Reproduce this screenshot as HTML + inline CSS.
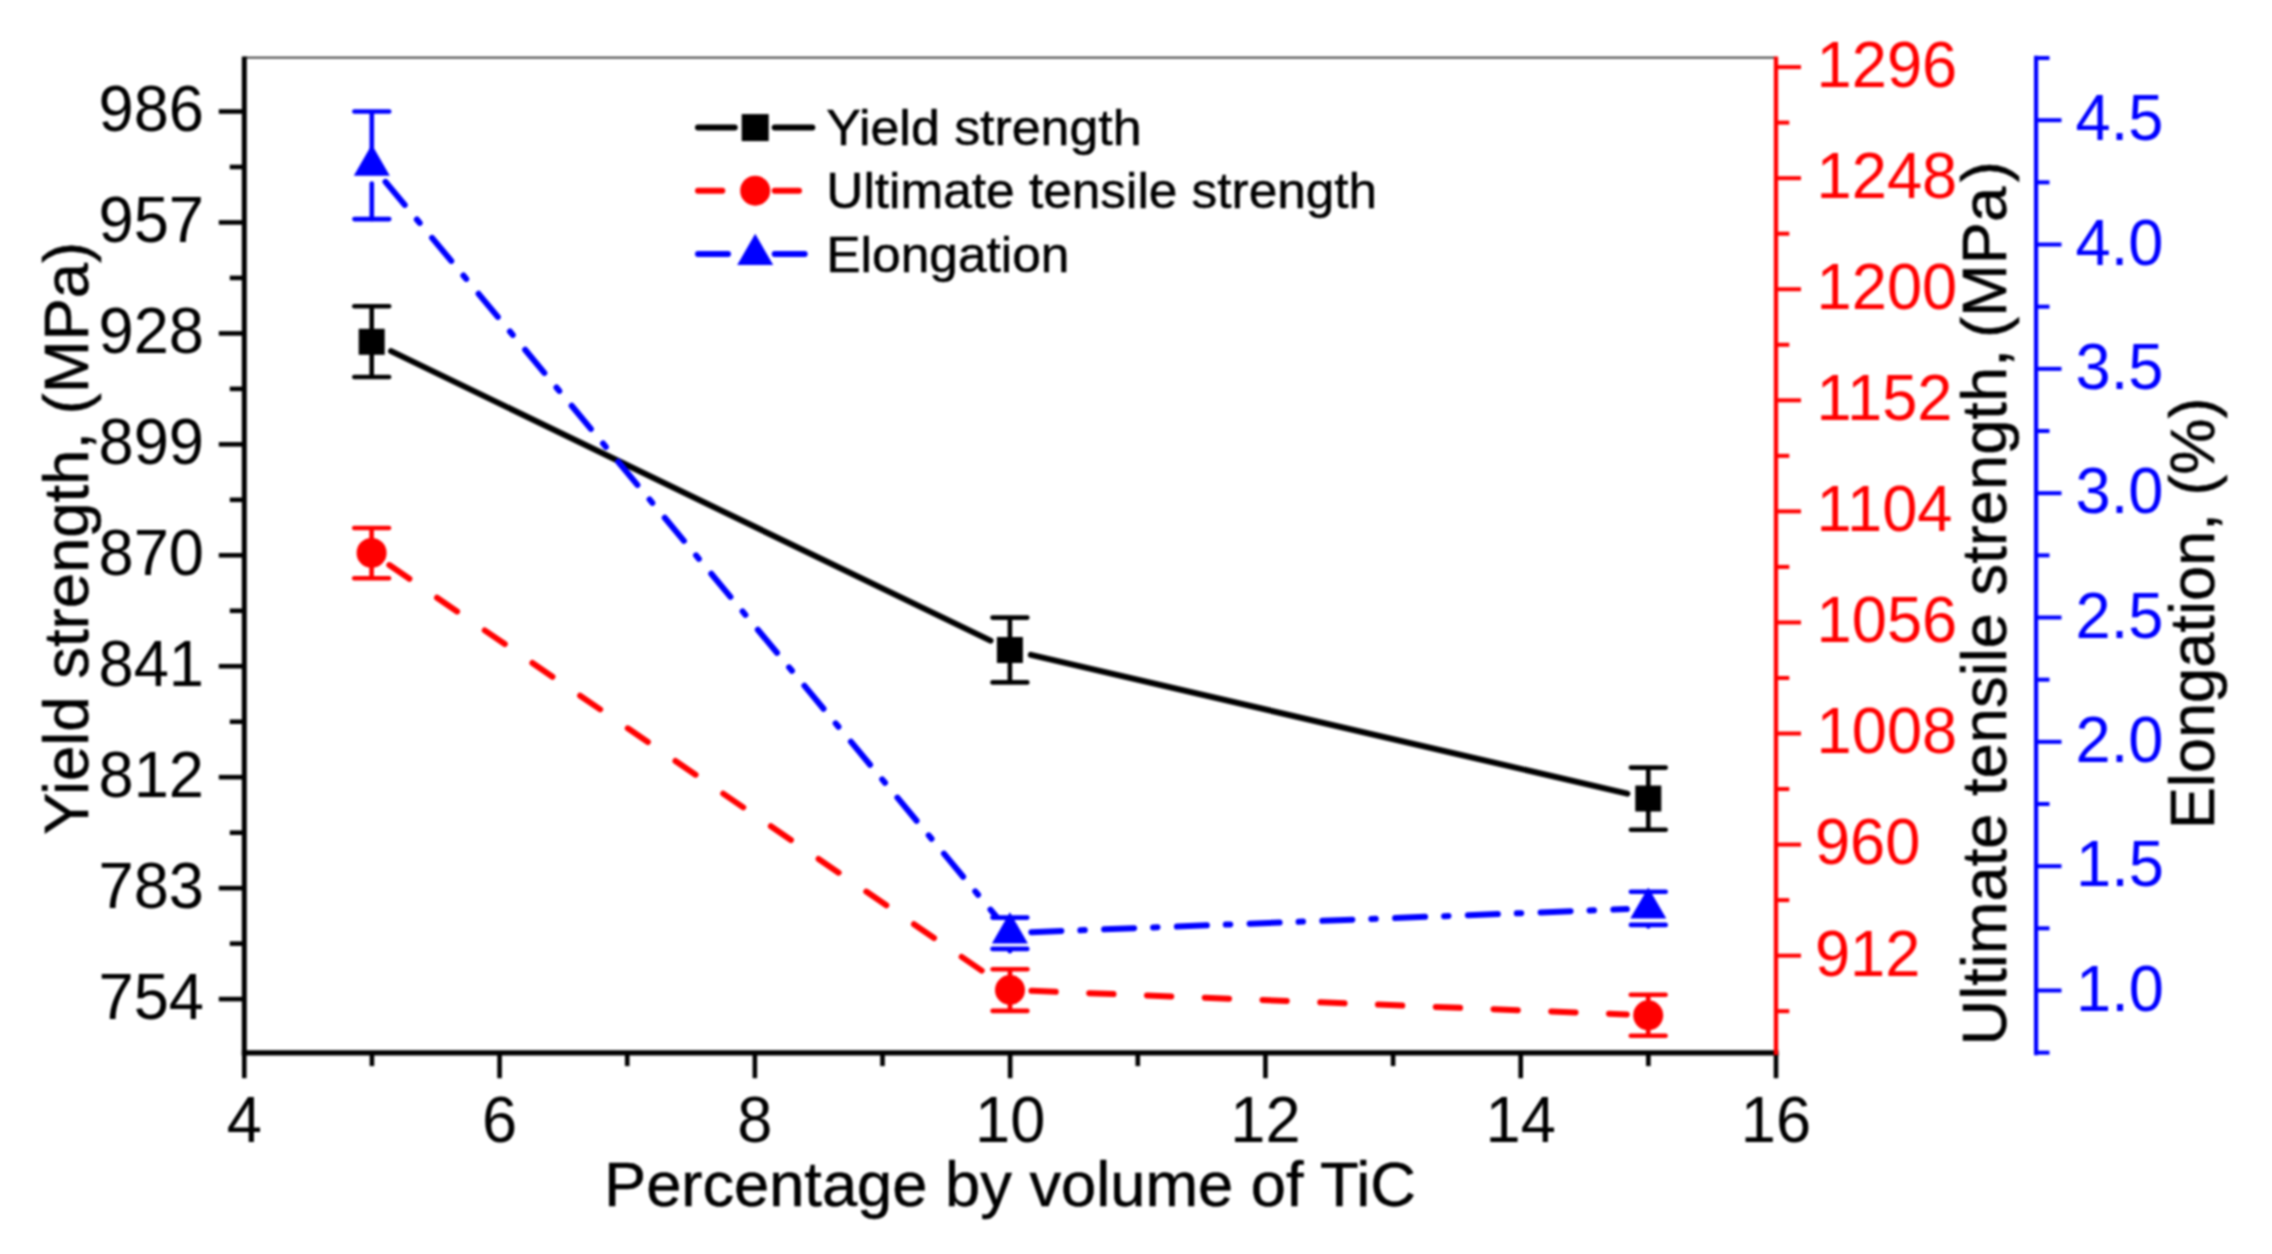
<!DOCTYPE html>
<html><head><meta charset="utf-8"><title>Mechanical properties vs TiC volume percentage</title>
<style>html,body{margin:0;padding:0;background:#fff;}body{width:2272px;height:1254px;overflow:hidden;}svg{display:block;filter:blur(1.00px);}text{font-family:"Liberation Sans",sans-serif;}</style>
</head><body>
<svg width="2272" height="1254" viewBox="0 0 2272 1254">
<rect x="0" y="0" width="2272" height="1254" fill="#ffffff"/>
<line x1="244.30" y1="57.60" x2="1776.00" y2="57.60" stroke="#2a2a2a" stroke-width="1.80" />
<g id="axis-left">
<line x1="244.30" y1="56.50" x2="244.30" y2="1055.40" stroke="#000" stroke-width="5.00" />
<line x1="218.80" y1="111.50" x2="244.30" y2="111.50" stroke="#000" stroke-width="4.60" />
<text transform="translate(204.00,131.10) scale(1,1.040)" font-size="63.20" text-anchor="end" fill="#000">986</text>
<line x1="218.80" y1="222.45" x2="244.30" y2="222.45" stroke="#000" stroke-width="4.60" />
<text transform="translate(204.00,242.05) scale(1,1.040)" font-size="63.20" text-anchor="end" fill="#000">957</text>
<line x1="218.80" y1="333.40" x2="244.30" y2="333.40" stroke="#000" stroke-width="4.60" />
<text transform="translate(204.00,353.00) scale(1,1.040)" font-size="63.20" text-anchor="end" fill="#000">928</text>
<line x1="218.80" y1="444.35" x2="244.30" y2="444.35" stroke="#000" stroke-width="4.60" />
<text transform="translate(204.00,463.95) scale(1,1.040)" font-size="63.20" text-anchor="end" fill="#000">899</text>
<line x1="218.80" y1="555.30" x2="244.30" y2="555.30" stroke="#000" stroke-width="4.60" />
<text transform="translate(204.00,574.90) scale(1,1.040)" font-size="63.20" text-anchor="end" fill="#000">870</text>
<line x1="218.80" y1="666.25" x2="244.30" y2="666.25" stroke="#000" stroke-width="4.60" />
<text transform="translate(204.00,685.85) scale(1,1.040)" font-size="63.20" text-anchor="end" fill="#000">841</text>
<line x1="218.80" y1="777.20" x2="244.30" y2="777.20" stroke="#000" stroke-width="4.60" />
<text transform="translate(204.00,796.80) scale(1,1.040)" font-size="63.20" text-anchor="end" fill="#000">812</text>
<line x1="218.80" y1="888.15" x2="244.30" y2="888.15" stroke="#000" stroke-width="4.60" />
<text transform="translate(204.00,907.75) scale(1,1.040)" font-size="63.20" text-anchor="end" fill="#000">783</text>
<line x1="218.80" y1="999.10" x2="244.30" y2="999.10" stroke="#000" stroke-width="4.60" />
<text transform="translate(204.00,1018.70) scale(1,1.040)" font-size="63.20" text-anchor="end" fill="#000">754</text>
<line x1="229.80" y1="166.97" x2="244.30" y2="166.97" stroke="#000" stroke-width="4.60" />
<line x1="229.80" y1="277.93" x2="244.30" y2="277.93" stroke="#000" stroke-width="4.60" />
<line x1="229.80" y1="388.88" x2="244.30" y2="388.88" stroke="#000" stroke-width="4.60" />
<line x1="229.80" y1="499.82" x2="244.30" y2="499.82" stroke="#000" stroke-width="4.60" />
<line x1="229.80" y1="610.78" x2="244.30" y2="610.78" stroke="#000" stroke-width="4.60" />
<line x1="229.80" y1="721.73" x2="244.30" y2="721.73" stroke="#000" stroke-width="4.60" />
<line x1="229.80" y1="832.68" x2="244.30" y2="832.68" stroke="#000" stroke-width="4.60" />
<line x1="229.80" y1="943.62" x2="244.30" y2="943.62" stroke="#000" stroke-width="4.60" />
</g>
<g id="axis-bottom">
<line x1="241.80" y1="1052.90" x2="1778.50" y2="1052.90" stroke="#000" stroke-width="5.20" />
<line x1="244.30" y1="1052.90" x2="244.30" y2="1078.20" stroke="#000" stroke-width="4.60" />
<text transform="translate(244.30,1142.00) scale(1,1.040)" font-size="63.20" text-anchor="middle" fill="#000">4</text>
<line x1="371.94" y1="1052.90" x2="371.94" y2="1066.10" stroke="#000" stroke-width="4.60" />
<line x1="499.58" y1="1052.90" x2="499.58" y2="1078.20" stroke="#000" stroke-width="4.60" />
<text transform="translate(499.58,1142.00) scale(1,1.040)" font-size="63.20" text-anchor="middle" fill="#000">6</text>
<line x1="627.23" y1="1052.90" x2="627.23" y2="1066.10" stroke="#000" stroke-width="4.60" />
<line x1="754.87" y1="1052.90" x2="754.87" y2="1078.20" stroke="#000" stroke-width="4.60" />
<text transform="translate(754.87,1142.00) scale(1,1.040)" font-size="63.20" text-anchor="middle" fill="#000">8</text>
<line x1="882.51" y1="1052.90" x2="882.51" y2="1066.10" stroke="#000" stroke-width="4.60" />
<line x1="1010.15" y1="1052.90" x2="1010.15" y2="1078.20" stroke="#000" stroke-width="4.60" />
<text transform="translate(1010.15,1142.00) scale(1,1.040)" font-size="63.20" text-anchor="middle" fill="#000">10</text>
<line x1="1137.79" y1="1052.90" x2="1137.79" y2="1066.10" stroke="#000" stroke-width="4.60" />
<line x1="1265.43" y1="1052.90" x2="1265.43" y2="1078.20" stroke="#000" stroke-width="4.60" />
<text transform="translate(1265.43,1142.00) scale(1,1.040)" font-size="63.20" text-anchor="middle" fill="#000">12</text>
<line x1="1393.08" y1="1052.90" x2="1393.08" y2="1066.10" stroke="#000" stroke-width="4.60" />
<line x1="1520.72" y1="1052.90" x2="1520.72" y2="1078.20" stroke="#000" stroke-width="4.60" />
<text transform="translate(1520.72,1142.00) scale(1,1.040)" font-size="63.20" text-anchor="middle" fill="#000">14</text>
<line x1="1648.36" y1="1052.90" x2="1648.36" y2="1066.10" stroke="#000" stroke-width="4.60" />
<line x1="1776.00" y1="1052.90" x2="1776.00" y2="1078.20" stroke="#000" stroke-width="4.60" />
<text transform="translate(1776.00,1142.00) scale(1,1.040)" font-size="63.20" text-anchor="middle" fill="#000">16</text>
<text x="604" y="1205.5" font-size="62.70" textLength="812.0" lengthAdjust="spacingAndGlyphs" fill="#000" stroke="#000" stroke-width="0.5">Percentage by volume of TiC</text>
</g>
<g id="axis-red">
<line x1="1776.00" y1="56.50" x2="1776.00" y2="1054.90" stroke="#ff0000" stroke-width="4.30" />
<line x1="1776.00" y1="67.10" x2="1801.00" y2="67.10" stroke="#ff0000" stroke-width="4.00" />
<text transform="translate(1816.60,87.00) scale(1,1.040)" font-size="63.20" text-anchor="start" fill="#ff0000">1296</text>
<line x1="1776.00" y1="178.17" x2="1801.00" y2="178.17" stroke="#ff0000" stroke-width="4.00" />
<text transform="translate(1816.60,198.07) scale(1,1.040)" font-size="63.20" text-anchor="start" fill="#ff0000">1248</text>
<line x1="1776.00" y1="289.24" x2="1801.00" y2="289.24" stroke="#ff0000" stroke-width="4.00" />
<text transform="translate(1816.60,309.14) scale(1,1.040)" font-size="63.20" text-anchor="start" fill="#ff0000">1200</text>
<line x1="1776.00" y1="400.31" x2="1801.00" y2="400.31" stroke="#ff0000" stroke-width="4.00" />
<text transform="translate(1816.60,420.21) scale(1,1.040)" font-size="63.20" text-anchor="start" fill="#ff0000">1152</text>
<line x1="1776.00" y1="511.38" x2="1801.00" y2="511.38" stroke="#ff0000" stroke-width="4.00" />
<text transform="translate(1816.60,531.28) scale(1,1.040)" font-size="63.20" text-anchor="start" fill="#ff0000">1104</text>
<line x1="1776.00" y1="622.45" x2="1801.00" y2="622.45" stroke="#ff0000" stroke-width="4.00" />
<text transform="translate(1816.60,642.35) scale(1,1.040)" font-size="63.20" text-anchor="start" fill="#ff0000">1056</text>
<line x1="1776.00" y1="733.52" x2="1801.00" y2="733.52" stroke="#ff0000" stroke-width="4.00" />
<text transform="translate(1816.60,753.42) scale(1,1.040)" font-size="63.20" text-anchor="start" fill="#ff0000">1008</text>
<line x1="1776.00" y1="844.59" x2="1801.00" y2="844.59" stroke="#ff0000" stroke-width="4.00" />
<text transform="translate(1814.90,864.49) scale(1,1.040)" font-size="63.20" text-anchor="start" fill="#ff0000">960</text>
<line x1="1776.00" y1="955.66" x2="1801.00" y2="955.66" stroke="#ff0000" stroke-width="4.00" />
<text transform="translate(1814.90,975.56) scale(1,1.040)" font-size="63.20" text-anchor="start" fill="#ff0000">912</text>
<line x1="1776.00" y1="122.63" x2="1789.30" y2="122.63" stroke="#ff0000" stroke-width="4.00" />
<line x1="1776.00" y1="233.70" x2="1789.30" y2="233.70" stroke="#ff0000" stroke-width="4.00" />
<line x1="1776.00" y1="344.77" x2="1789.30" y2="344.77" stroke="#ff0000" stroke-width="4.00" />
<line x1="1776.00" y1="455.85" x2="1789.30" y2="455.85" stroke="#ff0000" stroke-width="4.00" />
<line x1="1776.00" y1="566.91" x2="1789.30" y2="566.91" stroke="#ff0000" stroke-width="4.00" />
<line x1="1776.00" y1="677.99" x2="1789.30" y2="677.99" stroke="#ff0000" stroke-width="4.00" />
<line x1="1776.00" y1="789.05" x2="1789.30" y2="789.05" stroke="#ff0000" stroke-width="4.00" />
<line x1="1776.00" y1="900.12" x2="1789.30" y2="900.12" stroke="#ff0000" stroke-width="4.00" />
<line x1="1776.00" y1="1011.19" x2="1789.30" y2="1011.19" stroke="#ff0000" stroke-width="4.00" />
</g>
<g id="axis-blue">
<line x1="2036.10" y1="55.80" x2="2036.10" y2="1055.30" stroke="#0000ff" stroke-width="4.20" />
<line x1="2036.50" y1="120.20" x2="2061.50" y2="120.20" stroke="#0000ff" stroke-width="4.00" />
<text transform="translate(2075.50,140.20) scale(1,1.040)" font-size="63.20" text-anchor="start" fill="#0000ff">4.5</text>
<line x1="2036.50" y1="244.53" x2="2061.50" y2="244.53" stroke="#0000ff" stroke-width="4.00" />
<text transform="translate(2075.50,264.53) scale(1,1.040)" font-size="63.20" text-anchor="start" fill="#0000ff">4.0</text>
<line x1="2036.50" y1="368.86" x2="2061.50" y2="368.86" stroke="#0000ff" stroke-width="4.00" />
<text transform="translate(2075.50,388.86) scale(1,1.040)" font-size="63.20" text-anchor="start" fill="#0000ff">3.5</text>
<line x1="2036.50" y1="493.19" x2="2061.50" y2="493.19" stroke="#0000ff" stroke-width="4.00" />
<text transform="translate(2075.50,513.19) scale(1,1.040)" font-size="63.20" text-anchor="start" fill="#0000ff">3.0</text>
<line x1="2036.50" y1="617.51" x2="2061.50" y2="617.51" stroke="#0000ff" stroke-width="4.00" />
<text transform="translate(2075.50,637.51) scale(1,1.040)" font-size="63.20" text-anchor="start" fill="#0000ff">2.5</text>
<line x1="2036.50" y1="741.84" x2="2061.50" y2="741.84" stroke="#0000ff" stroke-width="4.00" />
<text transform="translate(2075.50,761.84) scale(1,1.040)" font-size="63.20" text-anchor="start" fill="#0000ff">2.0</text>
<line x1="2036.50" y1="866.17" x2="2061.50" y2="866.17" stroke="#0000ff" stroke-width="4.00" />
<text transform="translate(2076.00,886.17) scale(1,1.040)" font-size="63.20" text-anchor="start" fill="#0000ff">1.5</text>
<line x1="2036.50" y1="990.50" x2="2061.50" y2="990.50" stroke="#0000ff" stroke-width="4.00" />
<text transform="translate(2076.00,1010.50) scale(1,1.040)" font-size="63.20" text-anchor="start" fill="#0000ff">1.0</text>
<line x1="2036.50" y1="58.04" x2="2049.50" y2="58.04" stroke="#0000ff" stroke-width="4.00" />
<line x1="2036.50" y1="182.36" x2="2049.50" y2="182.36" stroke="#0000ff" stroke-width="4.00" />
<line x1="2036.50" y1="306.69" x2="2049.50" y2="306.69" stroke="#0000ff" stroke-width="4.00" />
<line x1="2036.50" y1="431.02" x2="2049.50" y2="431.02" stroke="#0000ff" stroke-width="4.00" />
<line x1="2036.50" y1="555.35" x2="2049.50" y2="555.35" stroke="#0000ff" stroke-width="4.00" />
<line x1="2036.50" y1="679.68" x2="2049.50" y2="679.68" stroke="#0000ff" stroke-width="4.00" />
<line x1="2036.50" y1="804.01" x2="2049.50" y2="804.01" stroke="#0000ff" stroke-width="4.00" />
<line x1="2036.50" y1="928.34" x2="2049.50" y2="928.34" stroke="#0000ff" stroke-width="4.00" />
<line x1="2036.50" y1="1052.66" x2="2049.50" y2="1052.66" stroke="#0000ff" stroke-width="4.00" />
</g>
<text transform="translate(87.9,835.0) rotate(-90)" font-size="62.70" textLength="593.2" lengthAdjust="spacingAndGlyphs" fill="#000" stroke="#000" stroke-width="0.5">Yield strength, (MPa)</text>
<text transform="translate(2006.3,1045.5) rotate(-90)" font-size="62.70" textLength="884.4" lengthAdjust="spacingAndGlyphs" fill="#000" stroke="#000" stroke-width="0.5">Ultimate tensile strength,<tspan dx="-6.2"> (MPa</tspan><tspan dx="4.6">)</tspan></text>
<text transform="translate(2214,829.3) rotate(-90)" font-size="62.70" textLength="431.8" lengthAdjust="spacingAndGlyphs" fill="#000" stroke="#000" stroke-width="0.5">Elongation, (%)</text>
<g id="series-yield">
<line x1="391.06" y1="351.15" x2="990.54" y2="640.65" stroke="#000" stroke-width="6.00" stroke-linecap="round"/>
<line x1="1030.84" y1="654.87" x2="1627.36" y2="793.63" stroke="#000" stroke-width="6.00" stroke-linecap="round"/>
<line x1="371.70" y1="306.30" x2="371.70" y2="377.00" stroke="#000" stroke-width="4.60" />
<line x1="354.30" y1="306.30" x2="389.10" y2="306.30" stroke="#000" stroke-width="4.60" stroke-linecap="round"/>
<line x1="354.30" y1="377.00" x2="389.10" y2="377.00" stroke="#000" stroke-width="4.60" stroke-linecap="round"/>
<line x1="1009.90" y1="617.60" x2="1009.90" y2="682.40" stroke="#000" stroke-width="4.60" />
<line x1="992.50" y1="617.60" x2="1027.30" y2="617.60" stroke="#000" stroke-width="4.60" stroke-linecap="round"/>
<line x1="992.50" y1="682.40" x2="1027.30" y2="682.40" stroke="#000" stroke-width="4.60" stroke-linecap="round"/>
<line x1="1648.30" y1="767.60" x2="1648.30" y2="829.80" stroke="#000" stroke-width="4.60" />
<line x1="1630.90" y1="767.60" x2="1665.70" y2="767.60" stroke="#000" stroke-width="4.60" stroke-linecap="round"/>
<line x1="1630.90" y1="829.80" x2="1665.70" y2="829.80" stroke="#000" stroke-width="4.60" stroke-linecap="round"/>
<rect x="358.70" y="328.80" width="26" height="26" fill="#000"/>
<rect x="996.90" y="637.00" width="26" height="26" fill="#000"/>
<rect x="1635.30" y="785.50" width="26" height="26" fill="#000"/>
</g>
<g id="series-uts">
<line x1="389.34" y1="565.05" x2="992.26" y2="977.85" stroke="#ff0000" stroke-width="6.00" stroke-linecap="round" stroke-dasharray="24.30 33.50"/>
<line x1="1031.48" y1="990.85" x2="1626.72" y2="1014.45" stroke="#ff0000" stroke-width="6.00" stroke-linecap="round" stroke-dasharray="24.30 33.50"/>
<line x1="371.60" y1="528.00" x2="371.60" y2="578.30" stroke="#ff0000" stroke-width="4.60" />
<line x1="354.20" y1="528.00" x2="389.00" y2="528.00" stroke="#ff0000" stroke-width="4.60" stroke-linecap="round"/>
<line x1="354.20" y1="578.30" x2="389.00" y2="578.30" stroke="#ff0000" stroke-width="4.60" stroke-linecap="round"/>
<line x1="1010.00" y1="969.20" x2="1010.00" y2="1010.90" stroke="#ff0000" stroke-width="4.60" />
<line x1="992.60" y1="969.20" x2="1027.40" y2="969.20" stroke="#ff0000" stroke-width="4.60" stroke-linecap="round"/>
<line x1="992.60" y1="1010.90" x2="1027.40" y2="1010.90" stroke="#ff0000" stroke-width="4.60" stroke-linecap="round"/>
<line x1="1648.20" y1="994.70" x2="1648.20" y2="1035.80" stroke="#ff0000" stroke-width="4.60" />
<line x1="1630.80" y1="994.70" x2="1665.60" y2="994.70" stroke="#ff0000" stroke-width="4.60" stroke-linecap="round"/>
<line x1="1630.80" y1="1035.80" x2="1665.60" y2="1035.80" stroke="#ff0000" stroke-width="4.60" stroke-linecap="round"/>
<circle cx="371.60" cy="552.90" r="15" fill="#ff0000"/>
<circle cx="1010.00" cy="990.00" r="15" fill="#ff0000"/>
<circle cx="1648.20" cy="1015.30" r="15" fill="#ff0000"/>
</g>
<g id="series-elong">
<line x1="385.54" y1="181.83" x2="996.16" y2="916.47" stroke="#0000ff" stroke-width="6.00" stroke-linecap="round" stroke-dasharray="30.00 19.00 4.40 19.40"/>
<line x1="1031.38" y1="932.17" x2="1626.82" y2="909.03" stroke="#0000ff" stroke-width="6.00" stroke-linecap="round" stroke-dasharray="30.00 19.00 4.40 19.40"/>
<line x1="371.80" y1="111.50" x2="371.80" y2="165.30" stroke="#0000ff" stroke-width="4.60" />
<line x1="371.80" y1="183.50" x2="371.80" y2="219.10" stroke="#0000ff" stroke-width="4.60" stroke-linecap="round"/>
<line x1="354.40" y1="111.50" x2="389.20" y2="111.50" stroke="#0000ff" stroke-width="4.60" stroke-linecap="round"/>
<line x1="354.40" y1="219.10" x2="389.20" y2="219.10" stroke="#0000ff" stroke-width="4.60" stroke-linecap="round"/>
<line x1="1009.90" y1="917.60" x2="1009.90" y2="933.00" stroke="#0000ff" stroke-width="4.60" />
<line x1="1009.90" y1="951.20" x2="1009.90" y2="951.20" stroke="#0000ff" stroke-width="4.60" stroke-linecap="round"/>
<line x1="992.50" y1="917.60" x2="1027.30" y2="917.60" stroke="#0000ff" stroke-width="4.60" stroke-linecap="round"/>
<line x1="992.50" y1="948.90" x2="1027.30" y2="948.90" stroke="#0000ff" stroke-width="4.60" stroke-linecap="round"/>
<line x1="1648.30" y1="891.70" x2="1648.30" y2="908.20" stroke="#0000ff" stroke-width="4.60" />
<line x1="1648.30" y1="926.40" x2="1648.30" y2="926.40" stroke="#0000ff" stroke-width="4.60" stroke-linecap="round"/>
<line x1="1630.90" y1="891.70" x2="1665.70" y2="891.70" stroke="#0000ff" stroke-width="4.60" stroke-linecap="round"/>
<line x1="1630.90" y1="924.90" x2="1665.70" y2="924.90" stroke="#0000ff" stroke-width="4.60" stroke-linecap="round"/>
<polygon points="371.80,144.52 353.80,175.69 389.80,175.69" fill="#0000ff"/>
<polygon points="1009.90,912.22 991.90,943.39 1027.90,943.39" fill="#0000ff"/>
<polygon points="1648.30,887.42 1630.30,918.59 1666.30,918.59" fill="#0000ff"/>
</g>
<g id="legend">
<line x1="698.00" y1="127.60" x2="734.70" y2="127.60" stroke="#000" stroke-width="6.00" stroke-linecap="round"/>
<line x1="774.70" y1="127.60" x2="812.30" y2="127.60" stroke="#000" stroke-width="6.00" stroke-linecap="round"/>
<text x="826.3" y="145.10" font-size="50.60" textLength="315.3" lengthAdjust="spacingAndGlyphs" fill="#000" stroke="#000" stroke-width="0.5">Yield strength</text>
<line x1="698.00" y1="190.70" x2="734.70" y2="190.70" stroke="#ff0000" stroke-width="6.00" stroke-linecap="round" stroke-dasharray="24.30 33.50"/>
<line x1="774.70" y1="190.70" x2="812.30" y2="190.70" stroke="#ff0000" stroke-width="6.00" stroke-linecap="round" stroke-dasharray="24.30 33.50"/>
<text x="826.3" y="208.30" font-size="50.60" textLength="550.9" lengthAdjust="spacingAndGlyphs" fill="#000" stroke="#000" stroke-width="0.5">Ultimate tensile strength</text>
<line x1="698.00" y1="254.10" x2="734.70" y2="254.10" stroke="#0000ff" stroke-width="6.00" stroke-linecap="round" stroke-dasharray="30.00 19.00 4.40 19.40"/>
<line x1="774.70" y1="254.10" x2="812.30" y2="254.10" stroke="#0000ff" stroke-width="6.00" stroke-linecap="round" stroke-dasharray="30.00 19.00 4.40 19.40"/>
<text x="826.3" y="271.60" font-size="50.60" textLength="243.2" lengthAdjust="spacingAndGlyphs" fill="#000" stroke="#000" stroke-width="0.5">Elongation</text>
<rect x="741.70" y="114.10" width="27" height="27" fill="#000"/>
<circle cx="755.20" cy="190.7" r="15" fill="#ff0000"/>
<polygon points="755.20,233.82 737.20,264.99 773.20,264.99" fill="#0000ff"/>
</g>
</svg></body></html>
